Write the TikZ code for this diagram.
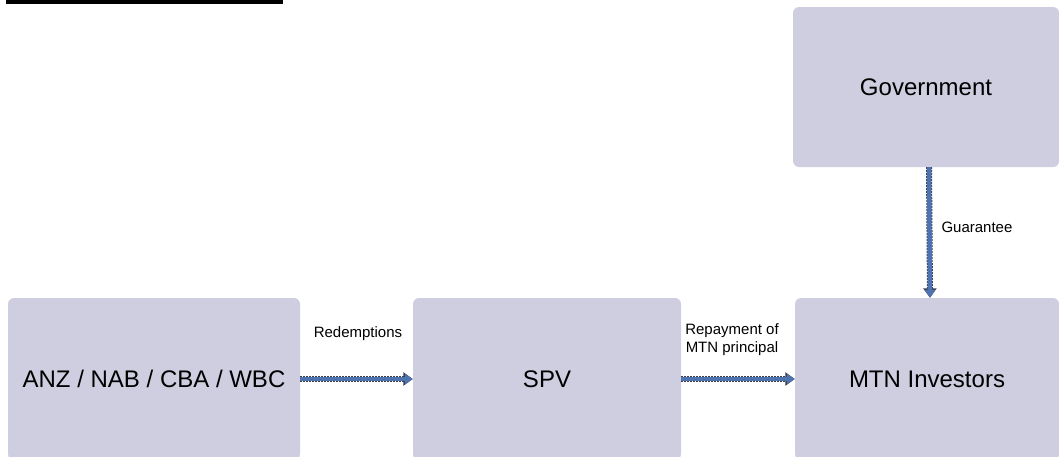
\documentclass[tikz,border=0pt]{standalone}
\usepackage{fontspec}
\setmainfont{Liberation Sans}
\usetikzlibrary{arrows.meta}

\definecolor{boxfill}{HTML}{CFCEE0}
\definecolor{flowblue}{HTML}{4F72B0}
\definecolor{flowedge}{HTML}{3A3F4A}

\tikzset{
  party/.style={fill=boxfill, rounded corners=6pt, inner sep=0pt,
    font=\fontsize{24}{28}\selectfont},
  flow/.style={draw=flowblue, line width=4.5pt,
    -{Triangle[width=10pt,length=8pt]},
    preaction={draw=flowedge, line width=6pt, dash pattern=on 2pt off 1pt,
      -{Triangle[width=13pt,length=9.5pt]}}},
  flowlabel/.style={font=\fontsize{15}{18}\selectfont, align=center}
}

\begin{document}
\begin{tikzpicture}[x=1pt,y=-1pt]
  \useasboundingbox (0,0) rectangle (1059,456);
  \clip (0,0) rectangle (1059,456);

  % title rule
  \fill (6,0) rectangle (283,3.5);

  % parties
  \node[party, minimum width=292pt, minimum height=162pt] (banks) at (154,379) {ANZ / NAB / CBA / WBC};
  \node[party, minimum width=268pt, minimum height=162pt] (spv) at (547,379) {SPV};
  \node[party, minimum width=264pt, minimum height=162pt] (mtn) at (927,379) {MTN Investors};
  \node[party, minimum width=266pt, minimum height=160pt] (gov) at (926,87) {Government};

  % cash flows
  \draw[flow] (banks.east) -- (spv.west);
  \draw[flow] (spv.east) -- (mtn.west);
  \draw[flow] ([xshift=3pt]gov.south) -- ([xshift=3pt]mtn.north);

  % labels
  \node[flowlabel] (redlabel) at (358,334) {Redemptions};
  \node[flowlabel] (replabel) at (732,340) {Repayment of\\MTN principal};
  \node[flowlabel, anchor=west] (guarlabel) at (938,227) {Guarantee};
\end{tikzpicture}
\end{document}
